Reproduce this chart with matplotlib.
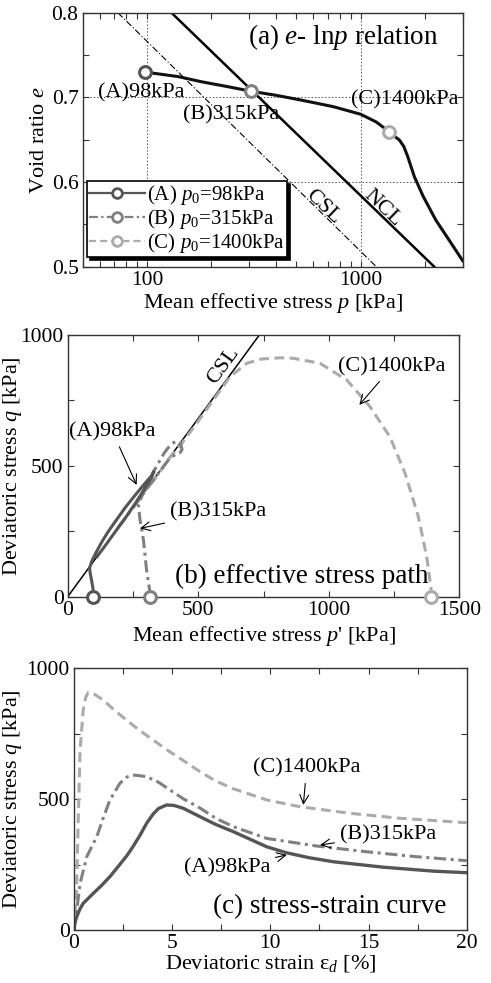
import matplotlib
matplotlib.use("Agg")
import matplotlib.pyplot as plt
from matplotlib.ticker import MultipleLocator, FixedLocator, LogLocator, NullFormatter

plt.rcParams["font.family"] = ["Liberation Serif", "DejaVu Serif"]
plt.rcParams["mathtext.fontset"] = "custom"
plt.rcParams["mathtext.rm"] = "Liberation Serif"
plt.rcParams["mathtext.it"] = "Liberation Serif:italic"
plt.rcParams["axes.linewidth"] = 1.0

# ---- (a) e - ln p relation ----
p_path = [98, 100, 140, 179, 240, 310, 400, 521, 744, 1000, 1180, 1300, 1354, 1420, 1517, 1590, 1659, 1782, 1960, 2246, 2589, 3000]
e_path = [0.730, 0.7295, 0.7245, 0.7185, 0.7125, 0.7070, 0.7025, 0.697, 0.689, 0.680, 0.671, 0.663, 0.659, 0.655, 0.6496, 0.642, 0.630, 0.6063, 0.583, 0.555, 0.5315, 0.507]
p_ncl = [130, 2206]
e_ncl = [0.8, 0.5]
p_csl_a = [73, 1182]
e_csl_a = [0.8, 0.5]
p0_vals = [98, 307, 1354]
e0_vals = [0.730, 0.707, 0.659]

# ---- (b) effective stress path ----
p_csl_b = [0, 734]
q_csl_b = [0, 1000]
pA = [98, 97, 92, 86, 84, 92, 105, 131, 156, 182, 220, 259, 300, 322, 330, 328, 323, 290, 259, 220, 182, 140, 113]
qA = [0, 30, 60, 90, 110, 135, 162, 210, 250, 287, 340, 389, 438, 463, 476, 478, 459, 405, 357, 300, 248, 190, 154]
pB = [315, 313, 307, 302, 296, 290, 283, 277, 271, 290, 315, 341, 370, 395, 415, 432, 438, 430, 415, 390, 350, 300, 260, 220, 191]
qB = [0, 30, 70, 102, 160, 217, 260, 293, 351, 400, 450, 500, 550, 582, 594, 585, 562, 550, 545, 528, 475, 408, 353, 300, 262]
pC = [1390, 1394, 1375, 1343, 1292, 1234, 1158, 1069, 966, 864, 813, 740, 686, 622, 558, 494, 437, 390, 341, 300]
qC = [0, 13, 153, 306, 472, 611, 726, 828, 892, 911, 913, 908, 892, 841, 752, 663, 586, 530, 459, 410]
p_start = [98, 315, 1390]

# ---- (c) stress-strain curve ----
epsA = [0, 0.05, 0.14, 0.3, 0.47, 0.98, 1.4, 1.83, 2.2, 2.68, 3.0, 3.36, 3.7, 4.04, 4.3, 4.72, 5.1, 5.57, 6.42, 7.2, 8.11, 9.82, 10.83, 12.0, 13.2, 15.76, 18.3, 20]
qA_c = [0, 28, 51, 80, 102, 140, 170, 204, 238, 283, 318, 362, 408, 444, 464, 478, 476, 465, 433, 404, 376, 318, 295, 276, 261, 240, 225, 219]
epsB = [0, 0.05, 0.14, 0.31, 0.65, 1.16, 1.5, 1.83, 2.34, 2.7, 3.1, 3.7, 4.3, 4.89, 5.6, 6.42, 7.2, 8.11, 9.82, 12.36, 14.91, 17.46, 20]
qB_c = [0, 30, 76, 178, 280, 357, 430, 497, 561, 585, 592, 586, 565, 535, 500, 466, 428, 395, 350, 321, 299, 280, 265]
epsC = [0, 0.05, 0.14, 0.22, 0.31, 0.47, 0.6, 0.73, 0.98, 1.49, 2.0, 2.68, 3.3, 4.04, 4.7, 5.4, 6.42, 7.2, 8.11, 9.82, 11.51, 14.06, 16.6, 20]
qC_c = [0, 60, 178, 433, 688, 841, 890, 908, 904, 879, 844, 802, 765, 726, 690, 656, 605, 570, 540, 497, 471, 446, 427, 410]

colors = ["#555555", "#808080", "#ababab"]
styles = ["-", (0, (4, 1.5, 1, 1.5)), (0, (3.2, 1.8))]
labels_leg = ["(A) $p_{\\mathit{0}}$=98kPa", "(B) $p_{\\mathit{0}}$=315kPa", "(C) $p_{\\mathit{0}}$=1400kPa"]
FS = 15.5
FA = 16
FT = 19.5


def style_axes(ax):
    ax.tick_params(which="both", direction="in", top=True, right=True, length=4,
                   width=0.8, color="#333333", labelsize=FS, pad=3)
    for s in ax.spines.values():
        s.set_color("#333333")


fig = plt.figure(figsize=(4.91, 9.83), dpi=100)

# panel (a)
ax1 = fig.add_axes([0.1684, 0.7287, 0.774, 0.2584])
ax1.set_xscale("log")
ax1.plot(p_csl_a, e_csl_a, color="black", lw=0.8, linestyle=(0, (6, 2, 1, 2)))
ax1.plot(p_ncl, e_ncl, color="black", lw=1.8)
ax1.plot(p_path, e_path, color="#111111", lw=2.2)
for i in range(3):
    ax1.plot([p0_vals[i]], [e0_vals[i]], "o", ms=8.5, mfc="white", mec=colors[i], mew=2.2, zorder=5)
    ax1.plot([], [], color=colors[i], linestyle=styles[i], lw=1.6, marker="o", ms=7,
             mfc="white", mec=colors[i], mew=2.0, label=labels_leg[i])
ax1.set_xlim(50, 3000)
ax1.set_ylim(0.5, 0.8)
ax1.xaxis.set_major_locator(FixedLocator([100, 1000]))
ax1.xaxis.set_minor_locator(LogLocator(base=10, subs=range(2, 10)))
ax1.xaxis.set_minor_formatter(NullFormatter())
ax1.set_xticklabels(["100", "1000"])
ax1.yaxis.set_major_locator(MultipleLocator(0.1))
ax1.yaxis.set_minor_locator(MultipleLocator(0.05))
ax1.grid(which="major", linestyle=(0, (1.5, 2)), color="#555555", lw=0.7)
style_axes(ax1)
ax1.set_xlabel("Mean effective stress $p$ [kPa]", fontsize=FA, labelpad=1)
ax1.set_ylabel("Void ratio $e$", fontsize=FA, labelpad=2)
ax1.text(827, 0.7717, "(a) $e$- ln$p$ relation", fontsize=FT, ha="center", va="center")
ax1.text(59, 0.7048, "(A)98kPa", fontsize=FA, ha="left", va="center")
ax1.text(147, 0.6792, "(B)315kPa", fontsize=FA, ha="left", va="center")
ax1.text(905, 0.6969, "(C)1400kPa", fontsize=FA, ha="left", va="center")
ax1.text(668, 0.571, "CSL", fontsize=FA, ha="center", va="center", rotation=-44)
ax1.text(1270, 0.569, "NCL", fontsize=FA, ha="center", va="center", rotation=-44)
leg = ax1.legend(loc="lower left", bbox_to_anchor=(0.0, 0.02), fontsize=15, frameon=True,
                 fancybox=False, edgecolor="black", handlelength=2.7, handletextpad=0.1,
                 labelspacing=0.0, borderpad=0.1, borderaxespad=0.2,
                 shadow={"color": "black", "alpha": 1.0})
leg.get_frame().set_linewidth(1.2)

# panel (b)
ax2 = fig.add_axes([0.1379, 0.393, 0.7976, 0.2662])
ax2.plot(p_csl_b, q_csl_b, color="black", lw=1.1)
ax2.plot(pC, qC, color=colors[2], linestyle=styles[2], lw=2.2)
ax2.plot(pB, qB, color=colors[1], linestyle=styles[1], lw=2.2)
ax2.plot(pA, qA, color=colors[0], linestyle=styles[0], lw=2.2)
for i in range(3):
    ax2.plot([p_start[i]], [0], "o", ms=8.5, mfc="white", mec=colors[i], mew=2.2, zorder=5, clip_on=False)
ax2.set_xlim(0, 1500)
ax2.set_ylim(0, 1000)
ax2.xaxis.set_major_locator(MultipleLocator(500))
ax2.xaxis.set_minor_locator(MultipleLocator(250))
ax2.yaxis.set_major_locator(MultipleLocator(500))
ax2.yaxis.set_minor_locator(MultipleLocator(250))
style_axes(ax2)
ax2.set_xlabel("Mean effective stress $p$' [kPa]", fontsize=FA, labelpad=3)
ax2.set_ylabel("Deviatoric stress $q$ [kPa]", fontsize=FA)
ax2.yaxis.set_label_coords(-0.112, 0.5)
ax2.text(595, 881, "CSL", fontsize=FA, ha="center", va="center", rotation=54)
arrow = dict(arrowstyle="->", color="black", lw=0.8, shrinkA=2, shrinkB=0)
ax2.annotate("(C)1400kPa", xy=(1117, 733), xytext=(1242, 878), fontsize=FA,
             ha="center", va="center", arrowprops=arrow)
ax2.annotate("(A)98kPa", xy=(264, 427), xytext=(172, 630), fontsize=FA,
             ha="center", va="center", arrowprops=arrow)
ax2.annotate("(B)315kPa", xy=(277, 261), xytext=(392, 325), fontsize=FA,
             ha="left", va="center", arrowprops=arrow)
ax2.text(1380, 76, "(b) effective stress path", fontsize=FT, ha="right", va="center")

# panel (c)
ax3 = fig.add_axes([0.1507, 0.0539, 0.7998, 0.2662])
ax3.plot(epsC, qC_c, color=colors[2], linestyle=styles[2], lw=2.2)
ax3.plot(epsB, qB_c, color=colors[1], linestyle=styles[1], lw=2.2)
ax3.plot(epsA, qA_c, color=colors[0], linestyle=styles[0], lw=2.4)
ax3.set_xlim(0, 20)
ax3.set_ylim(0, 1000)
ax3.xaxis.set_major_locator(MultipleLocator(5))
ax3.xaxis.set_minor_locator(MultipleLocator(2.5))
ax3.yaxis.set_major_locator(MultipleLocator(500))
ax3.yaxis.set_minor_locator(MultipleLocator(250))
style_axes(ax3)
ax3.set_xlabel("Deviatoric strain ε$_{\\mathit{d}}$ [%]", fontsize=FA, labelpad=0)
ax3.set_ylabel("Deviatoric stress $q$ [kPa]", fontsize=FA)
ax3.yaxis.set_label_coords(-0.128, 0.5)
ax3.annotate("(C)1400kPa", xy=(11.68, 478), xytext=(11.85, 618), fontsize=FA,
             ha="center", va="center", arrowprops=arrow)
ax3.annotate("(B)315kPa", xy=(12.53, 325), xytext=(13.55, 363), fontsize=FA,
             ha="left", va="center", arrowprops=arrow)
ax3.annotate("(A)98kPa", xy=(10.84, 287), xytext=(7.78, 236), fontsize=FA,
             ha="center", va="center", arrowprops=arrow)
ax3.text(18.99, 89, "(c) stress-strain curve", fontsize=FT, ha="right", va="center")

fig.savefig("out.png", dpi=100)
